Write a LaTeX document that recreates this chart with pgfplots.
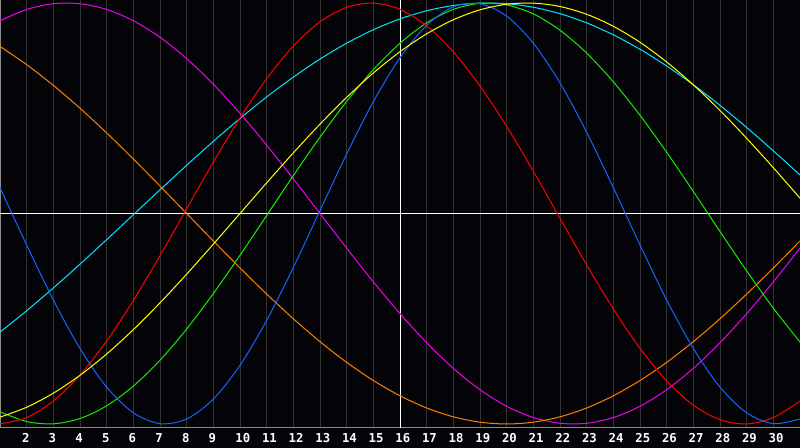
\documentclass[border=0pt]{standalone}
\usepackage{fontspec}
\usepackage{pgfplots}
\usepackage{pgfplotstable}
\pgfplotsset{compat=1.18}
\newfontfamily\monofont{DejaVu Sans Mono}

\definecolor{bg}{RGB}{4,4,8}
\definecolor{gridgray}{RGB}{50,50,50}
\definecolor{bordergray}{RGB}{140,140,140}
\definecolor{cred}{RGB}{255,0,0}
\definecolor{cblue}{RGB}{20,100,255}
\definecolor{cgreen}{RGB}{20,235,0}
\definecolor{cyellow}{RGB}{255,255,0}
\definecolor{ccyan}{RGB}{0,230,255}
\definecolor{cmagenta}{RGB}{240,0,240}
\definecolor{corange}{RGB}{255,128,0}

% day, then one column per cycle
\pgfplotstableread{
d r b g y c m o
1 -0.9997 0.1226 -0.9418 -0.9675 -0.5635 0.9158 0.7934
2 -0.9697 -0.1497 -0.9884 -0.9204 -0.4619 0.9694 0.7071
3 -0.8910 -0.4109 -0.9993 -0.8536 -0.3538 0.9966 0.6088
4 -0.7677 -0.6414 -0.9740 -0.7687 -0.2407 0.9966 0.5000
5 -0.6056 -0.8248 -0.9135 -0.6675 -0.1241 0.9694 0.3827
6 -0.4136 -0.9468 -0.8200 -0.5518 -0.0059 0.9158 0.2588
7 -0.2006 -0.9985 -0.6971 -0.4245 0.1123 0.8372 0.1305
8 0.0225 -0.9762 -0.5487 -0.2881 0.2290 0.7357 0.0000
9 0.2443 -0.8815 -0.3804 -0.1456 0.3427 0.6142 -0.1305
10 0.4540 -0.7214 -0.1985 0.0000 0.4514 0.4759 -0.2588
11 0.6408 -0.5078 -0.0095 0.1456 0.5537 0.3247 -0.3827
12 0.7956 -0.2566 0.1799 0.2881 0.6480 0.1646 -0.5000
13 0.9105 0.0136 0.3628 0.4245 0.7336 0.0000 -0.6088
14 0.9797 0.2828 0.5326 0.5518 0.8090 -0.1646 -0.7071
15 0.9997 0.5313 0.6834 0.6675 0.8729 -0.3247 -0.7934
16 0.9697 0.7400 0.8090 0.7687 0.9245 -0.4759 -0.8660
17 0.8910 0.8941 0.9056 0.8536 0.9631 -0.6142 -0.9239
18 0.7677 0.9818 0.9695 0.9204 0.9881 -0.7357 -0.9659
19 0.6056 0.9966 0.9984 0.9675 0.9994 -0.8372 -0.9914
20 0.4136 0.9376 0.9911 0.9940 0.9966 -0.9158 -1.0000
21 0.2006 0.8090 0.9481 0.9993 0.9798 -0.9694 -0.9914
22 -0.0225 0.6204 0.8708 0.9834 0.9492 -0.9966 -0.9659
23 -0.2443 0.3859 0.7619 0.9464 0.9054 -0.9966 -0.9239
24 -0.4540 0.1226 0.6254 0.8893 0.8487 -0.9694 -0.8660
25 -0.6408 -0.1497 0.4667 0.8133 0.7801 -0.9158 -0.7934
26 -0.7956 -0.4109 0.2908 0.7198 0.7007 -0.8372 -0.7071
27 -0.9105 -0.6414 0.1045 0.6112 0.6116 -0.7357 -0.6088
28 -0.9797 -0.8248 -0.0856 0.4894 0.5137 -0.6142 -0.5000
29 -0.9997 -0.9468 -0.2726 0.3572 0.4085 -0.4759 -0.3827
30 -0.9697 -0.9985 -0.4498 0.2174 0.2977 -0.3247 -0.2588
31 -0.8910 -0.9762 -0.6107 0.0730 0.1828 -0.1646 -0.1305
}\biodata

\begin{document}
\begin{tikzpicture}
\useasboundingbox (0,-0.4) rectangle (16,8.56);
\fill[bg] (0,-0.4) rectangle (16,8.56);
\begin{axis}[
    width=16cm, height=8.56cm,
    scale only axis,
    xmin=1, xmax=31,
    ymin=-1.019, ymax=1.0143,
    xtick={2,...,30},
    ytick=\empty,
    xmajorgrids,
    major grid style={gridgray, line width=0.02cm},
    major tick length=0pt,
    axis line style={bordergray, line width=0.02cm},
    axis background/.style={fill=bg},
    /pgf/number format/assume math mode=true,
    xticklabel style={font=\monofont\bfseries\fontsize{7}{8}\selectfont,
        text=white, anchor=west, inner sep=0pt, xshift=-0.1cm, yshift=-0.2cm},
    every axis plot/.append style={line width=0.02cm, smooth},
    ]
    \draw[white, line width=0.02cm] (axis cs:1,0) -- (axis cs:31,0);
    \draw[white, line width=0.02cm] (axis cs:16,-1.019) -- (axis cs:16,1.0143);
    \addplot[ccyan] table[x=d, y=c] {\biodata};
    \addplot[cmagenta] table[x=d, y=m] {\biodata};
    \addplot[corange] table[x=d, y=o] {\biodata};
    \addplot[cgreen] table[x=d, y=g] {\biodata};
    \addplot[cred] table[x=d, y=r] {\biodata};
    \addplot[cblue] table[x=d, y=b] {\biodata};
    \addplot[cyellow] table[x=d, y=y] {\biodata};
\end{axis}
\end{tikzpicture}
\end{document}
